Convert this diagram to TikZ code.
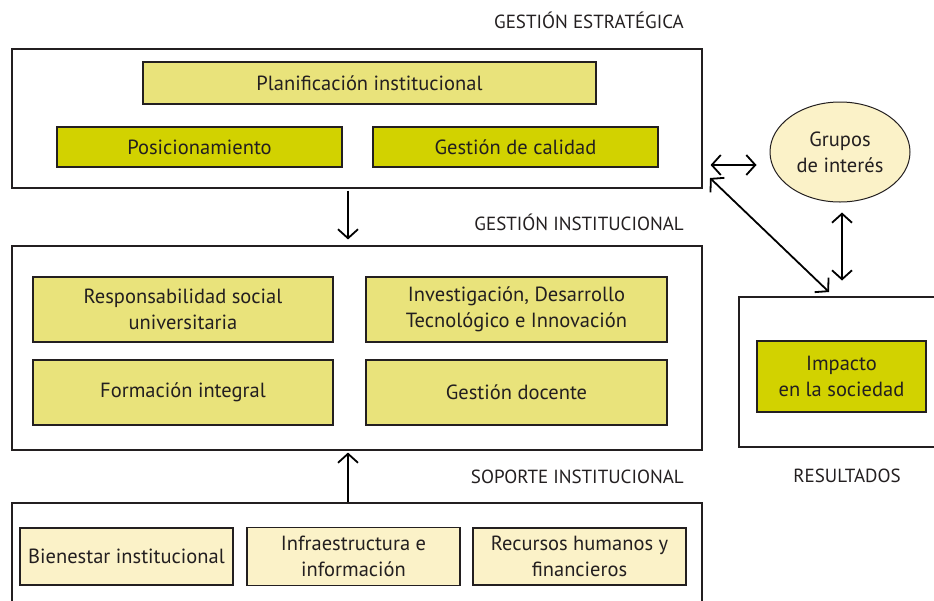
\documentclass[tikz,border=0pt]{standalone}
\usepackage{fontspec}
\setmainfont{PT Sans}
\usetikzlibrary{arrows.meta,shapes.geometric}
\definecolor{inkgray}{HTML}{231F20}
\definecolor{paleyellow}{HTML}{E9E37B}
\definecolor{olive}{HTML}{D2D200}
\definecolor{cream}{HTML}{FBF2C8}
\tikzset{
  frame/.style={draw=inkgray, line width=1.1pt, inner sep=0pt},
  item/.style={draw=inkgray, line width=1.2pt, inner sep=0pt, align=center,
    text=inkgray, font=\fontsize{20.5}{26}\selectfont},
  heading/.style={text=inkgray, font=\fontsize{19}{22}\selectfont, inner sep=0pt},
  onearrow/.style={line width=1.8pt, -{Straight Barb[length=9pt,width=20pt]}},
  twoarrow/.style={line width=1.8pt, {Straight Barb[length=9pt,width=20pt]}-{Straight Barb[length=9pt,width=20pt]}}
}
\begin{document}
\begin{tikzpicture}[x=1pt,y=-1pt]
  \clip (0,0) rectangle (934,600);
  % frames
  \node[frame, minimum width=690pt, minimum height=139pt] (strat) at (357,118.5) {};
  \node[frame, minimum width=690pt, minimum height=204pt] (inst) at (357,348) {};
  \node[frame, minimum width=690pt, minimum height=114pt] (sop) at (357,560) {};
  \node[frame, minimum width=221pt, minimum height=150pt] (res) at (849.5,372) {};
  % headings
  \node[heading, anchor=east] (hstrat) at (684,20) {GESTIÓN ESTRATÉGICA};
  \node[heading, anchor=east] (hinst) at (684,222) {GESTIÓN INSTITUCIONAL};
  \node[heading, anchor=east] (hsop) at (684,477) {SOPORTE INSTITUCIONAL};
  \node[heading] (hres) at (847,476) {RESULTADOS};
  % gestion estrategica
  \node[item, fill=paleyellow, minimum width=453pt, minimum height=42pt] (plan) at (369.5,83) {Planificación institucional};
  \node[item, fill=olive, minimum width=285pt, minimum height=40pt] (pos) at (199.5,147) {Posicionamiento};
  \node[item, fill=olive, minimum width=285pt, minimum height=40pt] (cal) at (515.5,147) {Gestión de calidad};
  % gestion institucional
  \node[item, fill=paleyellow, minimum width=300pt, minimum height=65pt] (rsu) at (183,309.5) {Responsabilidad social\\universitaria};
  \node[item, fill=paleyellow, minimum width=301pt, minimum height=65pt] (idi) at (516.5,309.5) {Investigación, Desarrollo\\Tecnológico e Innovación};
  \node[item, fill=paleyellow, minimum width=300pt, minimum height=65pt] (form) at (183,392.5) {Formación integral};
  \node[item, fill=paleyellow, minimum width=301pt, minimum height=65pt] (doc) at (516.5,392.5) {Gestión docente};
  % soporte institucional
  \node[item, fill=cream, minimum width=213pt, minimum height=57pt] (bien) at (126.5,556.5) {Bienestar institucional};
  \node[item, fill=cream, minimum width=213pt, minimum height=58pt] (infra) at (353.5,556.5) {Infraestructura e\\información};
  \node[item, fill=cream, minimum width=213pt, minimum height=57pt] (rec) at (579.5,556.5) {Recursos humanos y\\financieros};
  % resultados
  \node[item, fill=olive, minimum width=169pt, minimum height=71pt] (imp) at (841.5,376.5) {Impacto\\en la sociedad};
  \node[item, ellipse, fill=cream, line width=1pt, inner sep=0pt, minimum width=140pt, minimum height=100pt] (grp) at (840,152) {Grupos\\de interés};
  \coordinate (diagA) at (710,178);
  \coordinate (diagB) at (829,292);
  % flechas
  \draw[onearrow, shorten <=2pt, shorten >=6pt] ([xshift=-9pt]strat.south) -- ([xshift=-9pt]inst.north);
  \draw[onearrow, shorten >=2pt] ([xshift=-9pt]sop.north) -- ([xshift=-9pt]inst.south);
  \draw[twoarrow, shorten <=8pt, shorten >=13pt] ([yshift=-13pt]grp.west -| strat.east) -- ([yshift=-13pt]grp.west);
  \draw[twoarrow] (diagA) -- (diagB);
  \draw[twoarrow] (grp.south) ++(2,10) -- ++(0,68);
\end{tikzpicture}
\end{document}
